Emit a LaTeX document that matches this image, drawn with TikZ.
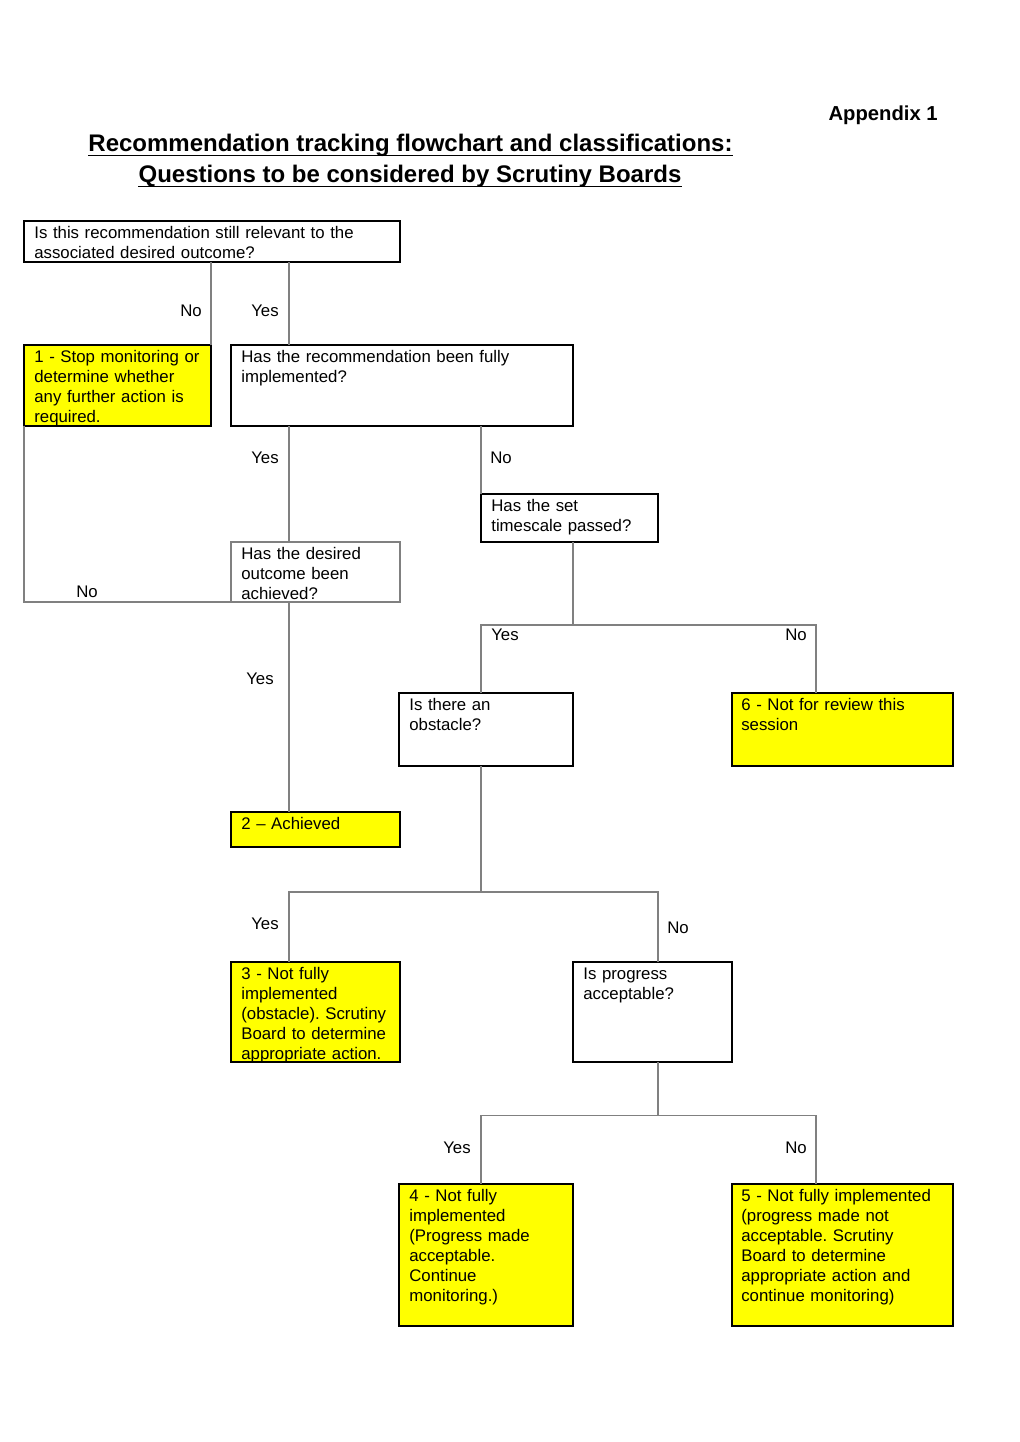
\documentclass[tikz,border=0pt]{standalone}
\usepackage{fontspec}
\setmainfont{Liberation Sans}
\usetikzlibrary{calc}
\definecolor{conngray}{HTML}{808080}
\definecolor{boxyellow}{HTML}{FFFF00}
\frenchspacing
\begin{document}
\begin{tikzpicture}[x=0.58333pt,y=-0.58333pt,
  sz/.style 2 args={minimum width=#1*0.58333pt, minimum height=#2*0.58333pt},
  box/.style={draw=black, line width=1pt, anchor=north west, inner sep=0pt, outer sep=0pt},
  qbox/.style={box, fill=white},
  ybox/.style={box, fill=boxyellow},
  txt/.style={anchor=base west, inner sep=0pt, align=left, text width=300pt, font=\fontsize{9.8}{11.67}\selectfont},
  lbl/.style={inner sep=0pt, font=\fontsize{9.8}{11.67}\selectfont},
  conn/.style={draw=conngray, line width=0.6pt},
  ttl/.style={inner sep=0pt, anchor=base, font=\fontsize{14}{16}\selectfont\bfseries}]
\useasboundingbox[fill=white] (0,0) rectangle (1020,1442);

% titles
\node[inner sep=0pt, anchor=east, font=\fontsize{11.8}{14}\selectfont\bfseries] (app) at (938,115) {Appendix 1};
\node[ttl] (ti1) at (410.5,151) {Recommendation tracking flowchart and classifications:};
\node[ttl] (ti2) at (410,182) {Questions to be considered by Scrutiny Boards};
\draw[line width=0.8pt] ([yshift=-2.6pt]ti1.base west) -- ([yshift=-2.6pt]ti1.base east);
\draw[line width=0.8pt] ([yshift=-2.6pt]ti2.base west) -- ([yshift=-2.6pt]ti2.base east);

% boxes
\node[qbox, sz={376}{41}] (q1) at (24,221) {};
\node[ybox, sz={187}{81}] (b1) at (24,345) {};
\node[qbox, sz={342}{81}] (q2) at (231,345) {};
\node[qbox, sz={169}{60}, draw=conngray, line width=0.6pt] (q3) at (231,542) {};
\node[ybox, sz={169}{35}] (b2) at (231,812) {};
\node[qbox, sz={177}{48}] (q4) at (481,494) {};
\node[qbox, sz={174}{73}] (q5) at (399,693) {};
\node[ybox, sz={221}{73}] (b6) at (732,693) {};
\node[ybox, sz={169}{100}] (b3) at (231,962) {};
\node[qbox, sz={159}{100}] (q6) at (573,962) {};
\node[ybox, sz={174}{142}] (b4) at (399,1184) {};
\node[ybox, sz={221}{142}] (b5) at (732,1184) {};

% texts
\node[txt] (tq1) at ($(q1.north west)+(10,17)$) {Is this recommendation still relevant to the\\associated desired outcome?};
\node[txt] (tb1) at ($(b1.north west)+(10,17)$) {1 - Stop monitoring or\\determine whether\\any further action is\\required.};
\node[txt] (tq2) at ($(q2.north west)+(10,17)$) {Has the recommendation been fully\\implemented?};
\node[txt] (tq3) at ($(q3.north west)+(10,17)$) {Has the desired\\outcome been\\achieved?};
\node[txt] (tb2) at ($(b2.north west)+(10,17)$) {2 -- Achieved};
\node[txt] (tq4) at ($(q4.north west)+(10,17)$) {Has the set\\timescale passed?};
\node[txt] (tq5) at ($(q5.north west)+(10,17)$) {Is there an\\obstacle?};
\node[txt] (tb6) at ($(b6.north west)+(9,17)$) {6 - Not for review this\\session};
\node[txt] (tb3) at ($(b3.north west)+(10,17)$) {3 - Not fully\\implemented\\(obstacle). Scrutiny\\Board to determine\\appropriate action.};
\node[txt] (tq6) at ($(q6.north west)+(10,17)$) {Is progress\\acceptable?};
\node[txt] (tb4) at ($(b4.north west)+(10,17)$) {4 - Not fully\\implemented\\(Progress made\\acceptable.\\Continue\\monitoring.)};
\node[txt] (tb5) at ($(b5.north west)+(9,17)$) {5 - Not fully implemented\\(progress made not\\acceptable. Scrutiny\\Board to determine\\appropriate action and\\continue monitoring)};

% entry points
\coordinate (q2in) at ($(q2.north west)+(58,0)$);
\coordinate (q3in) at ($(q3.north west)+(58,0)$);
\coordinate (q5in) at ($(q5.north west)+(82,0)$);
\coordinate (b6in) at ($(b6.north west)+(84,0)$);
\coordinate (b3in) at ($(b3.north west)+(58,0)$);
\coordinate (q6in) at ($(q6.north west)+(85,0)$);
\coordinate (b4in) at ($(b4.north west)+(82,0)$);
\coordinate (b5in) at ($(b5.north west)+(84,0)$);
\coordinate (j1) at (573,625);
\coordinate (j2) at (481,892);
\coordinate (j3) at (658,1115);

% connectors
\draw[conn] (b1.north east |- q1.south) -- (b1.north east);
\draw[conn] (q2in |- q1.south) -- (q2in);
\draw[conn] (b1.south west) |- (q3.south west);
\draw[conn] (q3in |- q2.south) -- (q3in);
\draw[conn] (q4.north west |- q2.south) -- (q4.north west);
\draw[conn] (q3in |- q3.south) -- (b2.north west -| q3in);
\draw[conn] (j1 |- q4.south) -- (j1);
\draw[conn] (q5in) -- (q5in |- j1) -- (b6in |- j1) -- (b6in);
\draw[conn] (j2 |- q5.south) -- (j2);
\draw[conn] (b3in) -- (b3in |- j2) -- (q6in |- j2) -- (q6in);
\draw[conn] (j3 |- q6.south) -- (j3);
\draw[conn] (b4in) -- (b4in |- j3) -- (b5in |- j3) -- (b5in);

% labels
\node[lbl] (l1) at (191,311) {No};
\node[lbl] (l2) at (265,311) {Yes};
\node[lbl] (l3) at (265,458) {Yes};
\node[lbl] (l4) at (501,458) {No};
\node[lbl] (l5) at (87,592) {No};
\node[lbl] (l6) at (260,679) {Yes};
\node[lbl] (l7) at (505,635) {Yes};
\node[lbl] (l8) at (796,635) {No};
\node[lbl] (l9) at (265,924) {Yes};
\node[lbl] (l10) at (678,928) {No};
\node[lbl] (l11) at (457,1148) {Yes};
\node[lbl] (l12) at (796,1148) {No};
\end{tikzpicture}
\end{document}
